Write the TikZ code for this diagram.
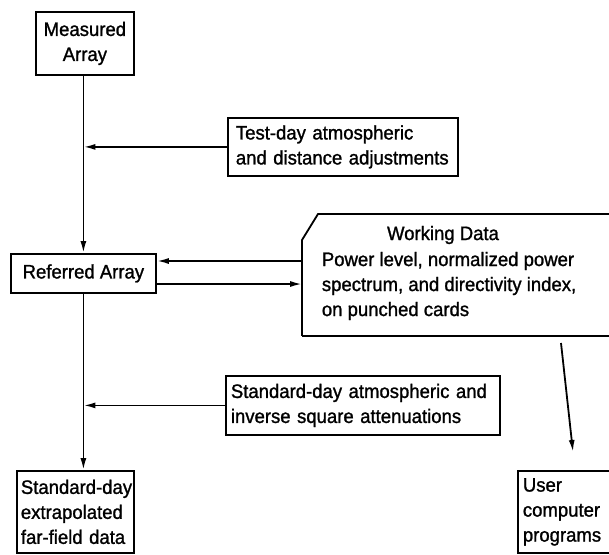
\documentclass[tikz,border=0pt]{standalone}
\usepackage{fontspec}
\setmainfont{Liberation Sans}[FakeStretch=0.95,FakeBold=1.2]
\usetikzlibrary{arrows.meta,calc}
\hyphenpenalty=10000
\exhyphenpenalty=10000
\begin{document}
\begin{tikzpicture}[x=1pt,y=-1pt,line width=1.8pt,
  lbl/.style={font=\fontsize{19.5}{25}\selectfont},
  box/.style={draw,lbl,inner ysep=0pt,anchor=north west},
  arr/.style={-{Latex[length=12pt,width=6pt]},line width=1.8pt}]
\useasboundingbox (0,0) rectangle (609,554);
\clip (0,0) rectangle (609,554);
% boxes
\node[box,align=center,minimum width=98pt,minimum height=63pt,inner xsep=0pt] (meas) at (35,11) {Measured\\Array};
\node[box,align=left,text width=222pt,inner xsep=4pt,minimum height=58pt] (td) at (227,117) {\hspace*{4pt}Test-day atmospheric\\\hspace*{4pt}and distance adjustments};
\node[box,align=center,minimum width=145pt,minimum height=39pt,inner xsep=0pt] (ref) at (10,253) {Referred Array};
\node[box,align=left,text width=268pt,inner xsep=3pt,minimum height=59pt] (sa) at (225,375) {\hspace*{2pt}Standard-day atmospheric and\\\hspace*{2pt}inverse square attenuations};
\node[box,align=left,text width=113pt,inner xsep=2pt,minimum height=82pt] (sx) at (16,470) {\hspace*{2pt}Standard-day\\\hspace*{2pt}extrapolated\\\hspace*{2pt}far-field data};
\node[box,align=left,text width=100pt,inner xsep=5pt,minimum height=82pt] (usr) at (517,470) {User\\computer\\programs};
% working data card
\node[anchor=north west,inner sep=0pt,minimum width=320pt,minimum height=120pt] (wd) at (302,214) {};
\draw (wd.south west) -- ($(wd.north west)+(0,26)$) -- ($(wd.north west)+(16,0)$) -- (wd.north east);
\draw (wd.south west) -- (wd.south east);
\node[lbl,inner sep=0pt] (wdt) at (443,235) {Working Data};
\node[lbl,inner sep=0pt,anchor=north west,align=left] (wdb) at (321,251) {Power level, normalized power\\spectrum, and directivity index,\\on punched cards};
% connectors
\draw[arr] (meas.south -| ref.north) -- (ref.north);
\draw[arr] (td.west) -- (td.west -| ref.north);
\coordinate (wu) at (302,261);
\coordinate (wl) at (302,284);
\draw[arr] (wu) -- (wu -| ref.east);
\draw[arr] (wl -| ref.east) -- (wl);
\draw[arr] (ref.south) -- (ref.south |- sx.north);
\draw[arr] (sa.west) -- (sa.west -| ref.south);
\coordinate (d1) at (561,343);
\coordinate (d2) at (573,452);
\draw[arr] (d1) -- (d2);
\end{tikzpicture}
\end{document}
